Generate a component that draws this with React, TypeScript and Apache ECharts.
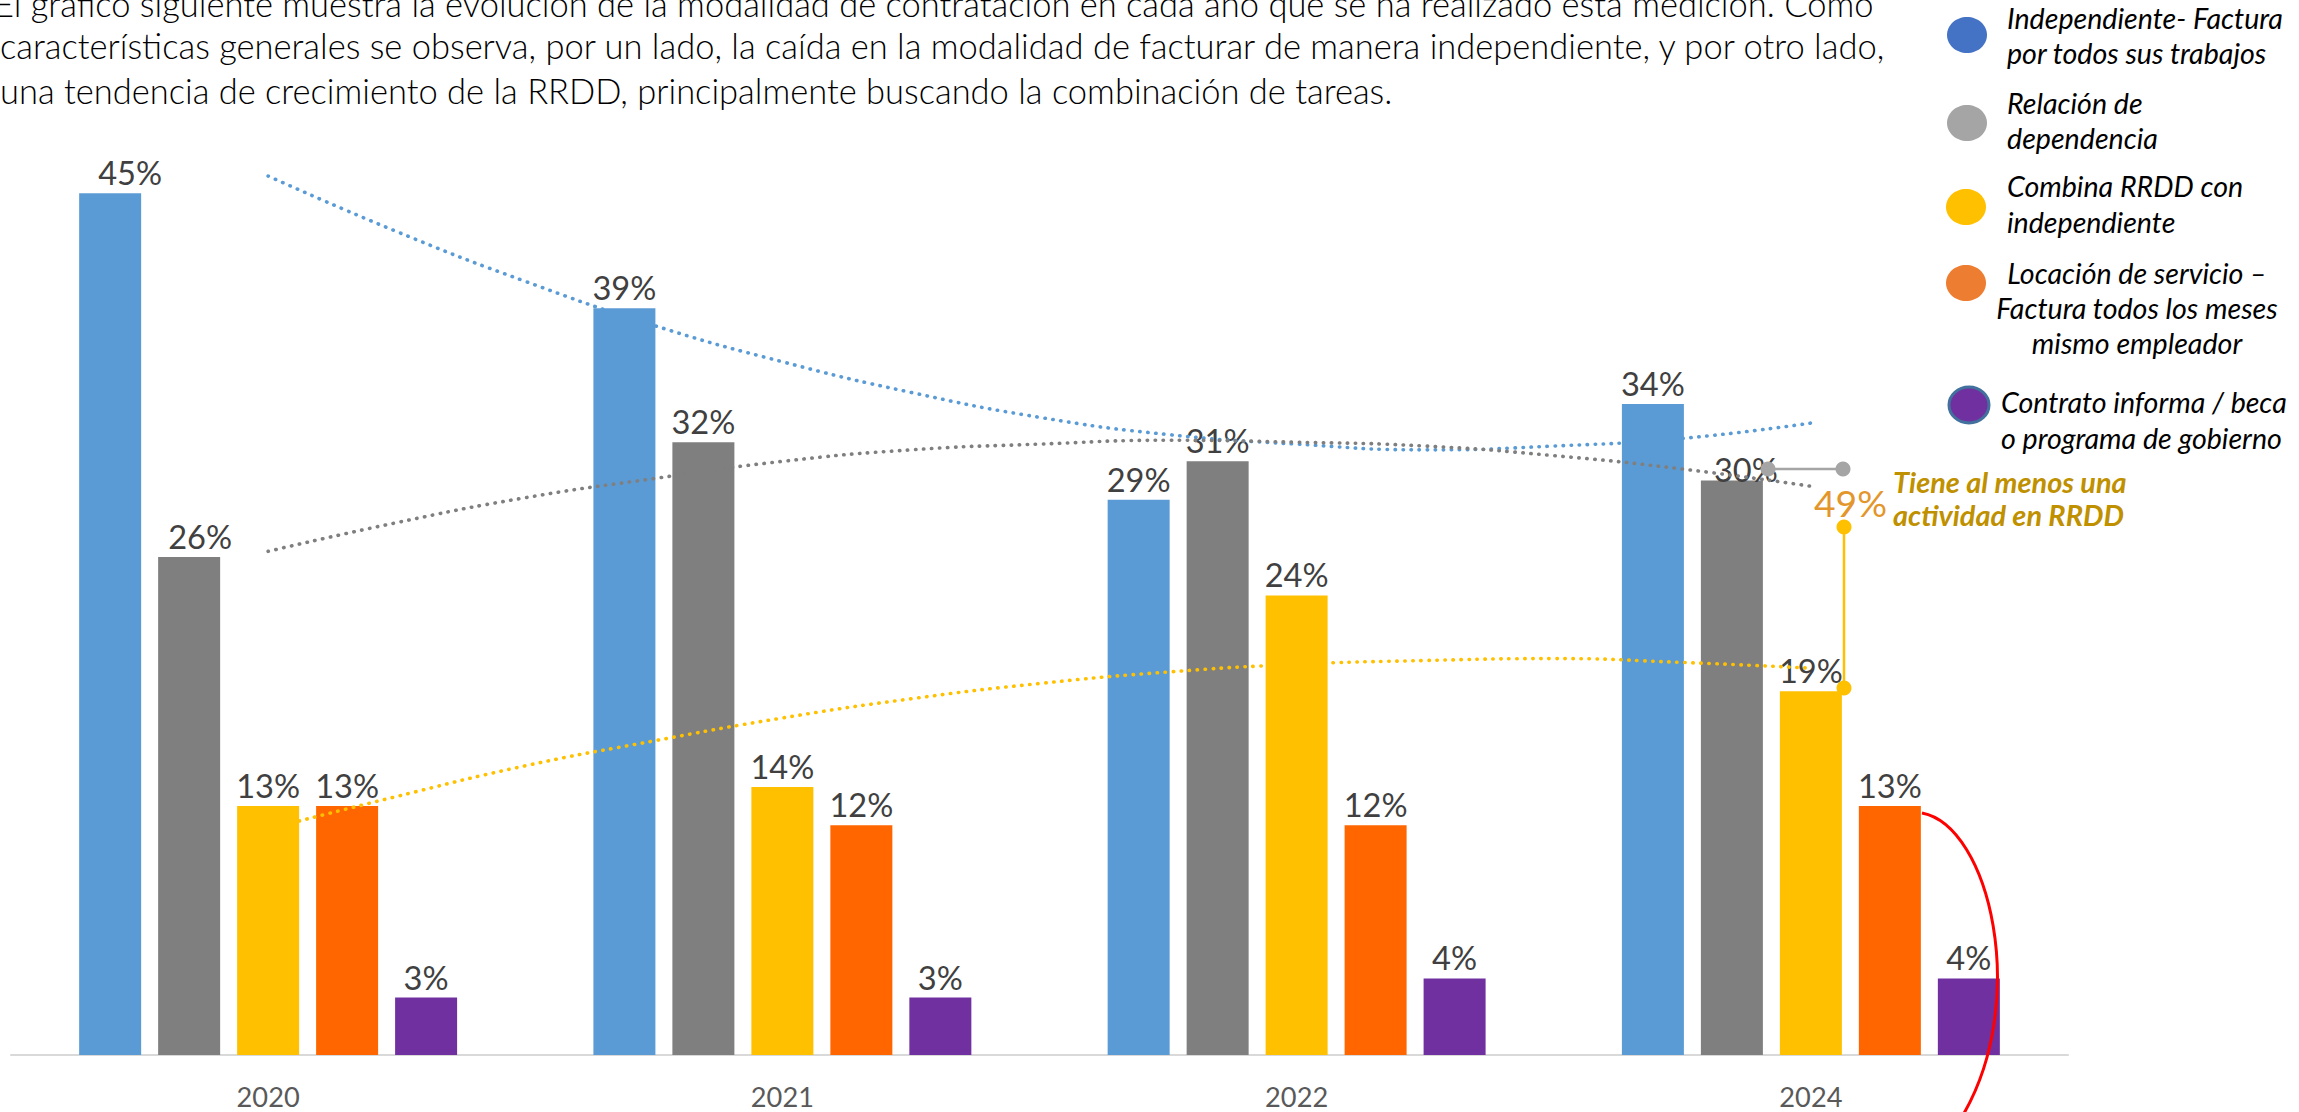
import React, { useEffect, useRef } from "react";
import * as echarts from "echarts";

const years = ["2020", "2021", "2022", "2024"];

const seriesNames = [
  "Independiente- Factura por todos sus trabajos",
  "Relación de dependencia",
  "Combina RRDD con independiente",
  "Locación de servicio – Factura todos los meses mismo empleador",
  "Contrato informa / beca o programa de gobierno",
];
const independiente = [45, 39, 29, 34];
const dependencia = [26, 32, 31, 30];
const combina = [13, 14, 24, 19];
const locacion = [13, 12, 12, 13];
const contrato = [3, 3, 4, 4];

const barColors = ["#5B9BD5", "#7F7F7F", "#FFC000", "#FF6600", "#7030A0"];
const legendColors = ["#4472C4", "#A5A5A5", "#FFC000", "#ED7D31", "#7030A0"];

// trend curves, position in category units (0 = 2020 ... 3 = 2024)
const trendX = [0, 0.25, 0.5, 0.75, 1, 1.25, 1.5, 1.75, 2, 2.25, 2.5, 2.75, 3];
const trendIndependiente = [45.9, 43.0, 40.4, 38.1, 36.2, 34.6, 33.3, 32.4, 31.9, 31.6, 31.8, 32.2, 33.0];
const trendDependencia = [26.3, 27.8, 29.1, 30.1, 31.0, 31.6, 31.9, 32.1, 32.0, 31.8, 31.3, 30.6, 29.7];
const trendCombina = [11.8, 13.5, 15.1, 16.4, 17.6, 18.6, 19.4, 20.0, 20.4, 20.6, 20.7, 20.5, 20.2];

const paragraph = [
  "El gráfico siguiente muestra la evolución de la modalidad de contratación en cada año que se ha realizado esta medición. Como",
  "características generales se observa, por un lado, la caída en la modalidad de facturar de manera independiente, y por otro lado,",
  "una tendencia de crecimiento de la RRDD, principalmente buscando la combinación de tareas.",
];

const legendLines = [
  ["Independiente- Factura", "por todos sus trabajos"],
  ["Relación de", "dependencia"],
  ["Combina RRDD con", "independiente"],
  ["Locación de servicio –", "Factura todos los meses", "mismo empleador"],
  ["Contrato informa / beca", "o programa de gobierno"],
];

const totalRRDD = "49%";
const annotationLines = ["Tiene al menos una", "actividad en RRDD"];

const FONT = "Lato";

function fitFont(text: string, style: string, weight: string, target: number) {
  const ctx = document.createElement("canvas").getContext("2d");
  if (!ctx) return 30;
  ctx.font = `${style} ${weight} 100px ${FONT}`;
  const w = ctx.measureText(text).width;
  return Math.round((1000 * target) / w) / 10;
}

function txt(x: number, y: number, text: string, o: any) {
  return {
    type: "text",
    x,
    y,
    z: 100,
    silent: true,
    style: {
      text,
      fill: o.fill,
      fontSize: o.fontSize,
      fontFamily: FONT,
      fontStyle: o.fontStyle || "normal",
      fontWeight: o.fontWeight || "normal",
      align: o.align || "left",
      textAlign: o.align || "left",
      verticalAlign: "middle",
      textVerticalAlign: "middle",
    },
  };
}

export default function App() {
  const ref = useRef<HTMLDivElement>(null);

  useEffect(() => {
    if (!ref.current) return;
    const chart = echarts.init(ref.current, undefined, { renderer: "svg" });

    const paraSize = fitFont(paragraph[1], "normal", "300", 1890);
    const legendSize = fitFont(legendLines[3][1], "italic", "normal", 282);
    const labelSize = fitFont("45%", "normal", "normal", 64);
    const yearSize = fitFont("2020", "normal", "normal", 63);
    const bigSize = fitFont(totalRRDD, "normal", "normal", 73);
    const annSize = fitFont(annotationLines[0], "italic", "bold", 234);

    const labelOffsets: Record<string, number[]> = {
      "0-0": [20, 0],
      "1-0": [11, 0],
      "1-3": [14, 9],
    };

    const values = [independiente, dependencia, combina, locacion, contrato];
    const barSeries = values.map((vals, si) => ({
      name: seriesNames[si],
      type: "bar",
      barWidth: 62,
      barGap: "27.4%",
      z: 2,
      itemStyle: { color: barColors[si] },
      label: {
        show: true,
        position: "top",
        distance: 4,
        formatter: "{c}%",
        fontFamily: FONT,
        fontSize: labelSize,
        color: "#404040",
      },
      data: vals.map((v, i) => {
        const off = labelOffsets[`${si}-${i}`];
        return off ? { value: v, label: { offset: off } } : v;
      }),
    }));

    const trendSeries = [
      [trendIndependiente, "#5B9BD5"],
      [trendDependencia, "#7F7F7F"],
      [trendCombina, "#FFC000"],
    ].map(([arr, color]: any) => ({
      type: "line",
      xAxisIndex: 1,
      yAxisIndex: 0,
      smooth: true,
      symbol: "none",
      silent: true,
      z: 5,
      lineStyle: { color, width: 3.6, type: [0.4, 7.6], cap: "round" },
      data: trendX.map((x, i) => [x, arr[i]]),
    }));

    const graphics: any[] = [];
    const paraX = [-6, 0, 0];
    const paraY = [3, 45, 90];
    paragraph.forEach((line, i) =>
      graphics.push(txt(paraX[i], paraY[i], line, { fill: "#000000", fontSize: paraSize, fontWeight: "300" }))
    );

    const ellipses = [
      [1967, 35],
      [1967, 123],
      [1966, 207],
      [1966, 283],
      [1969, 405],
    ];
    ellipses.forEach(([cx, cy], i) =>
      graphics.push({
        type: "ellipse",
        z: 100,
        shape: { cx, cy, rx: 20, ry: 18 },
        style: {
          fill: legendColors[i],
          stroke: i === 4 ? "#41719C" : null,
          lineWidth: i === 4 ? 3 : 0,
        },
      })
    );
    const legendPos: any[] = [
      [2007, [18, 53], "left"],
      [2007, [103, 138], "left"],
      [2007, [186, 222], "left"],
      [2137, [273, 308, 343], "center"],
      [2001, [402, 438], "left"],
    ];
    legendLines.forEach((lines, i) => {
      const [x, ys, align] = legendPos[i];
      lines.forEach((l, j) =>
        graphics.push(txt(x, ys[j], l, { fill: "#000000", fontSize: legendSize, fontStyle: "italic", align }))
      );
    });

    // annotation for 2024
    graphics.push({
      type: "line",
      z: 110,
      shape: { x1: 1768, y1: 469, x2: 1843, y2: 469 },
      style: { stroke: "#A5A5A5", lineWidth: 2.5 },
    });
    graphics.push({ type: "circle", z: 111, shape: { cx: 1768, cy: 469, r: 7.5 }, style: { fill: "#A5A5A5" } });
    graphics.push({ type: "circle", z: 111, shape: { cx: 1843, cy: 469, r: 7.5 }, style: { fill: "#A5A5A5" } });
    graphics.push({
      type: "line",
      z: 110,
      shape: { x1: 1844, y1: 527, x2: 1844, y2: 688 },
      style: { stroke: "#FFC000", lineWidth: 2.5 },
    });
    graphics.push({ type: "circle", z: 111, shape: { cx: 1844, cy: 527, r: 7.5 }, style: { fill: "#FFC000" } });
    graphics.push({ type: "circle", z: 111, shape: { cx: 1844, cy: 688, r: 7.5 }, style: { fill: "#FFC000" } });
    graphics.push(txt(1814, 502, totalRRDD, { fill: "#E3962B", fontSize: bigSize }));
    graphics.push(
      txt(1893, 481, annotationLines[0], { fill: "#BF9000", fontSize: annSize, fontStyle: "italic", fontWeight: "bold" })
    );
    graphics.push(
      txt(1893, 514, annotationLines[1], { fill: "#BF9000", fontSize: annSize, fontStyle: "italic", fontWeight: "bold" })
    );
    graphics.push({
      type: "bezierCurve",
      z: 120,
      shape: { x1: 1922, y1: 813, cpx1: 1990, cpy1: 826, cpx2: 2030, cpy2: 1000, x2: 1963, y2: 1115 },
      style: { stroke: "#FF0000", lineWidth: 3, fill: "none" },
    });

    chart.setOption({
      animation: false,
      backgroundColor: "#ffffff",
      textStyle: { fontFamily: FONT },
      grid: { left: 11, right: 231, top: 97.5, bottom: 57, containLabel: false },
      xAxis: [
        {
          type: "category",
          data: years,
          axisLine: { show: true, lineStyle: { color: "#D9D9D9", width: 2 } },
          axisTick: { show: false },
          axisLabel: { fontSize: yearSize, color: "#595959", margin: 28, fontFamily: FONT },
          splitLine: { show: false },
        },
        { type: "value", min: -0.5, max: 3.5, show: false, splitLine: { show: false } },
      ],
      yAxis: { type: "value", min: 0, max: 50, show: false, splitLine: { show: false } },
      series: [...barSeries, ...trendSeries],
      graphic: { elements: graphics },
    });

    return () => chart.dispose();
  }, []);

  return (
    <div
      ref={ref}
      style={{ position: "absolute", left: 0, top: 0, width: 2299, height: 1112, background: "#fff" }}
    />
  );
}
